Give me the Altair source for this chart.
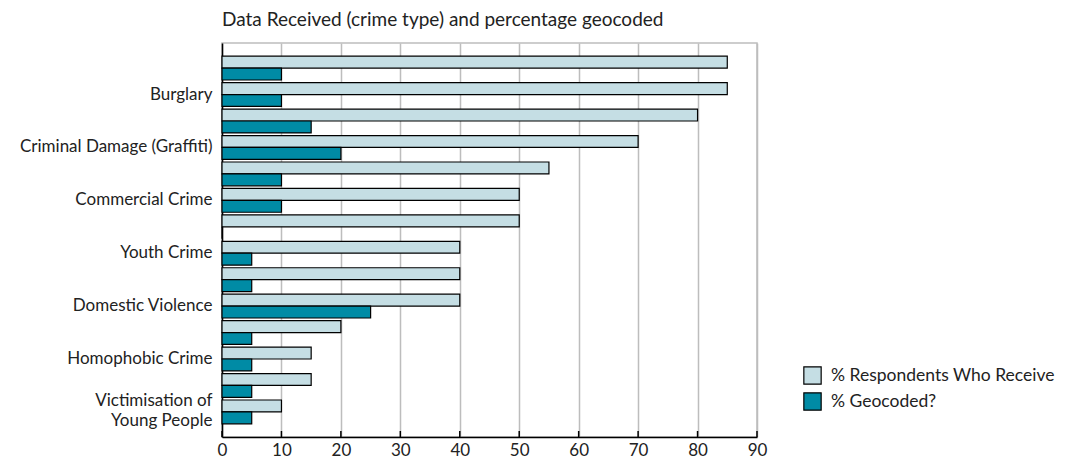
import json
import altair as alt
import pandas as pd

labels = ["", "Burglary", "", "Criminal Damage (Graffiti)", "", "Commercial Crime", "",
          "Youth Crime", "", "Domestic Violence", "", "Homophobic Crime", "",
          ["Victimisation of", "Young People"]]
respondents = [85, 85, 80, 70, 55, 50, 50, 40, 40, 40, 20, 15, 15, 10]
geocoded = [10, 10, 15, 20, 10, 10, 0, 5, 5, 25, 5, 5, 5, 5]
series = ["% Respondents Who Receive", "% Geocoded?"]
colors = ["#c5dee4", "#008ba5"]
x_ticks = [0, 10, 20, 30, 40, 50, 60, 70, 80, 90]

rows = []
for i in range(len(labels)):
    rows.append({"idx": i, "series": series[0], "value": respondents[i]})
    rows.append({"idx": i, "series": series[1], "value": geocoded[i]})
df = pd.DataFrame(rows)

W, H = 535, 394
FONT = "Lato"
TXT = "#222222"

label_expr = json.dumps(labels) + "[datum.value]"
last = len(labels) - 1

bars = alt.Chart(df).mark_bar(stroke="black", strokeWidth=1.2).encode(
    y=alt.Y("idx:O", title=None,
            scale=alt.Scale(paddingInner=0.1, paddingOuter=0.5),
            axis=alt.Axis(labelExpr=label_expr, ticks=False, domain=True,
                          domainColor="black", domainWidth=1.5,
                          labelFont=FONT, labelFontSize=17, labelColor=TXT,
                          labelPadding=10, labelLineHeight=20, grid=False,
                          labelLimit=400,
                          labelOffset=alt.ExprRef(f"datum.value == {last} ? -11 : 0"))),
    yOffset=alt.YOffset("series:N", sort=series, scale=alt.Scale(paddingInner=0, paddingOuter=0)),
    x=alt.X("value:Q", title=None,
            scale=alt.Scale(domain=[0, 90], nice=False),
            axis=alt.Axis(values=x_ticks, grid=True, gridColor="#bdbdbd", gridWidth=1.5,
                          ticks=False, domainColor="black", domainWidth=1.5,
                          labelFont=FONT, labelFontSize=17, labelColor=TXT,
                          labelPadding=5, labelFlush=False)),
    color=alt.Color("series:N", sort=series,
                    scale=alt.Scale(domain=series, range=colors),
                    legend=alt.Legend(title=None, orient="none", legendX=581, legendY=323,
                                      symbolType="square", symbolSize=300,
                                      symbolStrokeColor="black", symbolStrokeWidth=1.2,
                                      labelFont=FONT, labelFontSize=17.5, labelColor=TXT,
                                      labelLimit=400, rowPadding=3, labelOffset=9)),
)

tick_df = pd.DataFrame({"t": x_ticks})
ticks = alt.Chart(tick_df).mark_rule(color="black", strokeWidth=1.5).encode(
    x=alt.X("t:Q", scale=alt.Scale(domain=[0, 90], nice=False)),
    y=alt.value(H - 6),
    y2=alt.value(H),
)

chart = alt.layer(bars, ticks).properties(
    width=W, height=H,
    title=alt.TitleParams("Data Received (crime type) and percentage geocoded",
                          anchor="start", frame="group", font=FONT, fontSize=19,
                          fontWeight="normal", color=TXT, offset=13),
    autosize=alt.AutoSizeParams(type="none"),
    padding={"left": 222, "top": 43, "right": 312, "bottom": 25},
).configure_view(stroke="#bdbdbd", strokeWidth=1.5)

chart.save("out.html", embed_options={"renderer": "svg", "actions": False})
